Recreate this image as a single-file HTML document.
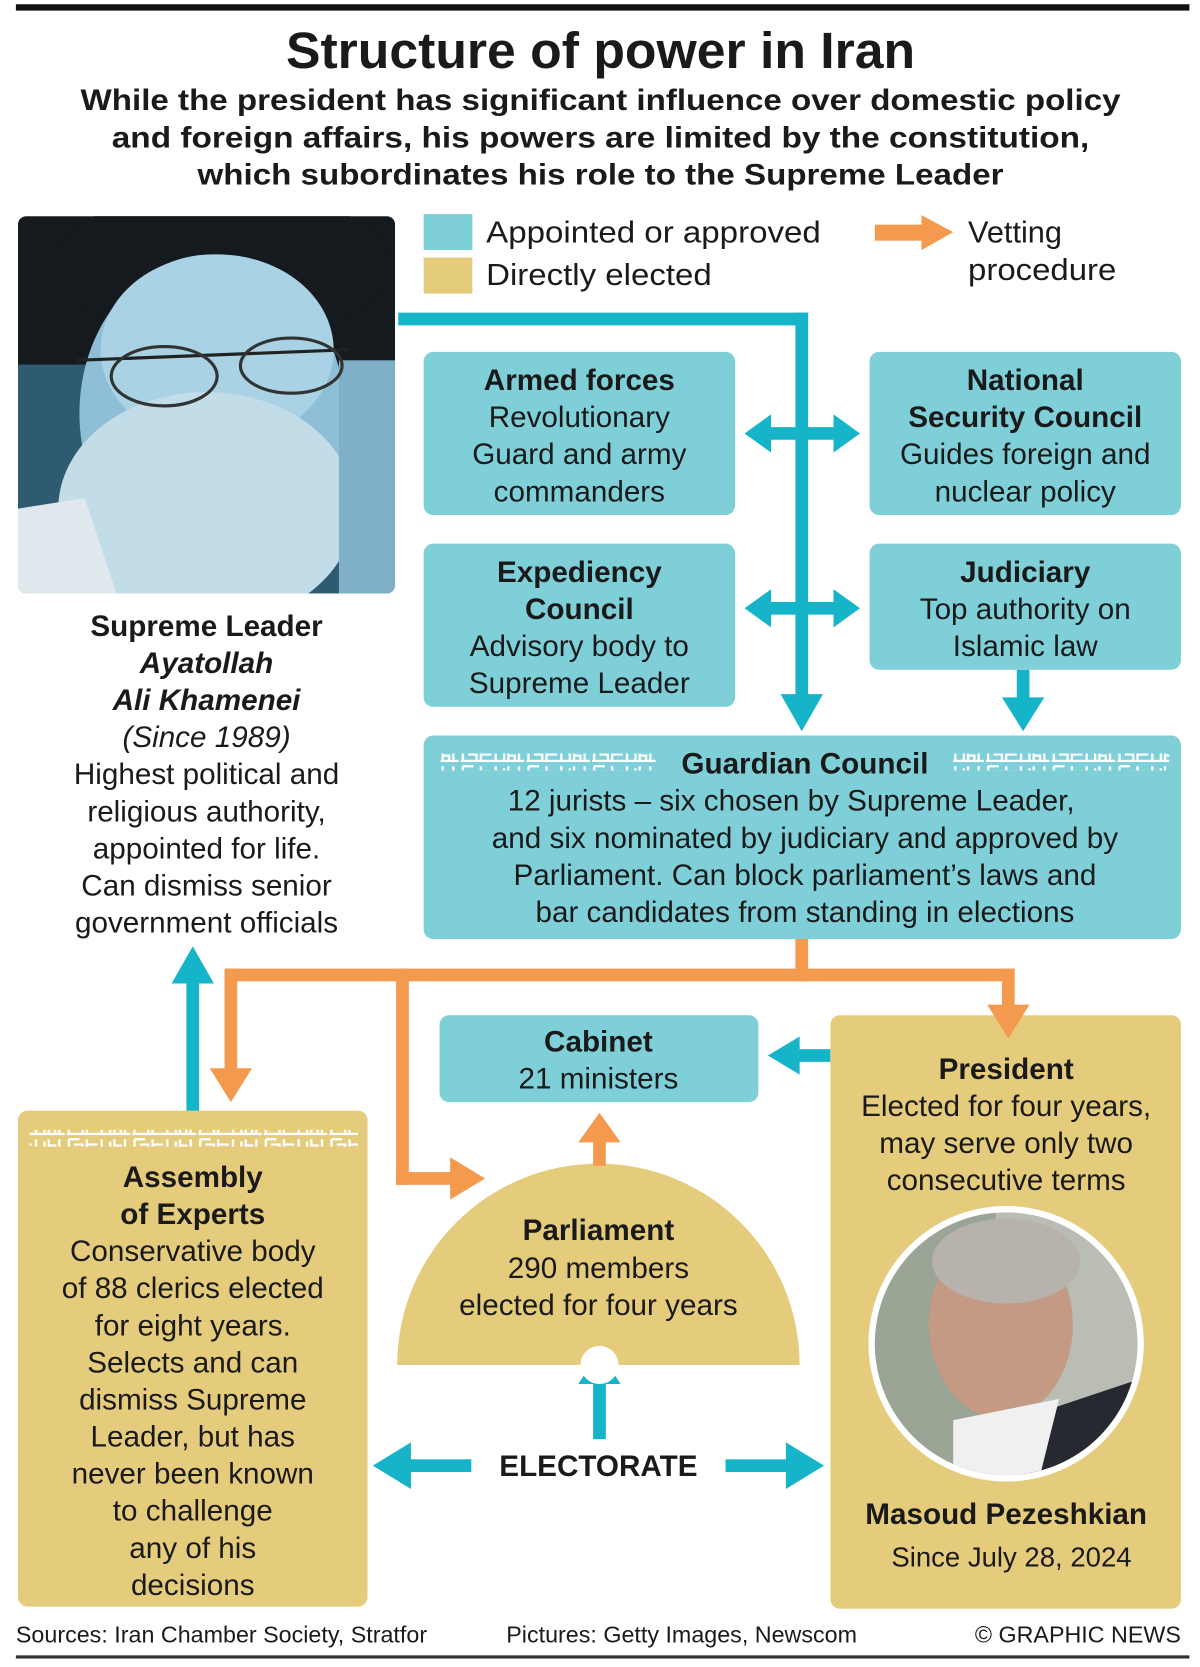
<!DOCTYPE html>
<html><head><meta charset="utf-8"><style>
html,body{margin:0;padding:0;background:#fff;}
svg{display:block;}
text{font-family:"Liberation Sans",sans-serif;fill:#1a1a1a;}
.b{font-weight:bold;}
</style></head><body>
<svg width="1200" height="1667" viewBox="0 0 1133 1573" preserveAspectRatio="none" xmlns="http://www.w3.org/2000/svg">
<defs>
<pattern id="kufi" x="0" y="0" width="62" height="16" patternUnits="userSpaceOnUse">
<path d="M1 14h60M3 3h10M3 3v11M8 8h8v6M20 3v11M20 8h10M34 3v11h8V5M46 3v11M46 9h6v5M56 3v11" stroke="#fff" stroke-width="2.2" fill="none"/>
</pattern>
<clipPath id="pc"><circle cx="950" cy="1268" r="124"/></clipPath>
<clipPath id="kc"><rect x="17" y="204" width="356" height="356" rx="8"/></clipPath>
</defs>

<rect x="15" y="4" width="1108" height="6" fill="#111"/>
<text x="567" y="64" text-anchor="middle" class="b" font-size="48" textLength="594" lengthAdjust="spacingAndGlyphs">Structure of power in Iran</text>
<text x="567" y="104" text-anchor="middle" class="b" font-size="28" textLength="982" lengthAdjust="spacingAndGlyphs">While the president has significant influence over domestic policy</text>
<text x="567" y="139" text-anchor="middle" class="b" font-size="28" textLength="923" lengthAdjust="spacingAndGlyphs">and foreign affairs, his powers are limited by the constitution,</text>
<text x="567" y="174" text-anchor="middle" class="b" font-size="28" textLength="761" lengthAdjust="spacingAndGlyphs">which subordinates his role to the Supreme Leader</text>

<!-- Khamenei photo -->
<g clip-path="url(#kc)">
<rect x="17" y="204" width="356" height="356" fill="#2f5b72"/>
<rect x="17" y="204" width="356" height="140" fill="#151a1e"/>
<ellipse cx="210" cy="250" rx="160" ry="70" fill="#151a1e"/>
<ellipse cx="200" cy="390" rx="125" ry="150" fill="#8fbfd6"/>
<ellipse cx="205" cy="330" rx="110" ry="90" fill="#a9d2e4"/>
<ellipse cx="195" cy="480" rx="140" ry="110" fill="#c3dde8"/>
<path d="M17 480 L80 470 L110 560 L17 560Z" fill="#dfe8ec"/>
<rect x="320" y="340" width="60" height="220" fill="#7fb0c8"/>
<path d="M72 340 L330 330" stroke="#222" stroke-width="3" fill="none"/>
<ellipse cx="155" cy="355" rx="50" ry="28" fill="none" stroke="#333" stroke-width="3"/>
<ellipse cx="275" cy="345" rx="48" ry="26" fill="none" stroke="#333" stroke-width="3"/>
</g>

<!-- legend -->
<rect x="400" y="202" width="46" height="34" fill="#7ecfd8"/>
<rect x="400" y="243" width="46" height="34" fill="#e5cc7d"/>
<text x="459" y="229" font-size="29" textLength="316" lengthAdjust="spacingAndGlyphs">Appointed or approved</text>
<text x="459" y="269" font-size="29" textLength="213" lengthAdjust="spacingAndGlyphs">Directly elected</text>
<polygon points="826,212 870,212 870,203 900,219 870,236 870,227 826,227" fill="#f39a4e"/>
<text x="914" y="229" font-size="29">Vetting</text>
<text x="914" y="264" font-size="29" textLength="140" lengthAdjust="spacingAndGlyphs">procedure</text>

<!-- teal connectors -->
<g fill="#16b4c9">
<rect x="376" y="295" width="387" height="12"/>
<rect x="751" y="295" width="12" height="365"/>
<polygon points="737,655 777,655 757,690"/>
<polygon points="703,409 728,391 728,403 787,403 787,391 812,409 787,427 787,415 728,415 728,427"/>
<polygon points="703,574 728,556 728,568 787,568 787,556 812,574 787,592 787,580 728,580 728,592"/>
<rect x="960" y="632" width="12" height="30"/>
<polygon points="946,658 986,658 966,690"/>
<rect x="752" y="990" width="32" height="12"/>
<polygon points="725,996 755,978 755,1014"/>
<rect x="176" y="925" width="12" height="125"/>
<polygon points="162,928 202,928 182,893"/>
<rect x="560" y="1300" width="12" height="58"/>
<polygon points="546,1306 586,1306 566,1276"/>
<rect x="385" y="1377" width="60" height="12"/>
<polygon points="352,1383 388,1361 388,1405"/>
<rect x="685" y="1377" width="60" height="12"/>
<polygon points="778,1383 742,1361 742,1405"/>
</g>

<!-- boxes -->
<g fill="#7ecfd8">
<rect x="400" y="332" width="294" height="154" rx="9"/>
<rect x="821" y="332" width="294" height="154" rx="9"/>
<rect x="400" y="513" width="294" height="154" rx="9"/>
<rect x="821" y="513" width="294" height="119" rx="9"/>
<rect x="400" y="694" width="715" height="192" rx="9"/>
<rect x="415" y="958" width="301" height="82" rx="9"/>
</g>
<g fill="#e5cc7d">
<rect x="17" y="1048" width="330" height="468" rx="9"/>
<rect x="784" y="958" width="331" height="560" rx="9"/>
<path d="M375 1288 A190 190 0 0 1 755 1288 Z"/>
</g>
<circle cx="566" cy="1288" r="18" fill="#fff"/>

<!-- orange connectors -->
<g fill="#f39a4e">
<rect x="751" y="886" width="12" height="40"/>
<rect x="212" y="914" width="746" height="12"/>
<rect x="212" y="914" width="12" height="100"/>
<polygon points="198,1008 238,1008 218,1040"/>
<rect x="946" y="914" width="12" height="40"/>
<polygon points="932,948 972,948 952,980"/>
<rect x="374" y="914" width="12" height="204"/>
<rect x="374" y="1106" width="55" height="12"/>
<polygon points="425,1092 458,1112 425,1132"/>
<rect x="560" y="1070" width="12" height="30"/>
<polygon points="546,1078 586,1078 566,1050"/>
</g>

<!-- kufi patterns -->
<rect x="416" y="711" width="204" height="16" fill="url(#kufi)"/>
<rect x="900" y="711" width="204" height="16" fill="url(#kufi)"/>
<rect x="28" y="1066" width="310" height="16" fill="url(#kufi)"/>

<!-- box text -->
<g font-size="28" text-anchor="middle">
<text x="547" y="368" class="b">Armed forces</text>
<text x="547" y="403">Revolutionary</text>
<text x="547" y="438">Guard and army</text>
<text x="547" y="473">commanders</text>

<text x="968" y="368" class="b">National</text>
<text x="968" y="403" class="b">Security Council</text>
<text x="968" y="438">Guides foreign and</text>
<text x="968" y="473">nuclear policy</text>

<text x="547" y="549" class="b">Expediency</text>
<text x="547" y="584" class="b">Council</text>
<text x="547" y="619">Advisory body to</text>
<text x="547" y="654">Supreme Leader</text>

<text x="968" y="549" class="b">Judiciary</text>
<text x="968" y="584">Top authority on</text>
<text x="968" y="619">Islamic law</text>

<text x="760" y="730" class="b">Guardian Council</text>
<text x="747" y="765">12 jurists – six chosen by Supreme Leader,</text>
<text x="760" y="800">and six nominated by judiciary and approved by</text>
<text x="760" y="835">Parliament. Can block parliament’s laws and</text>
<text x="760" y="870">bar candidates from standing in elections</text>

<text x="565" y="992" class="b">Cabinet</text>
<text x="565" y="1027">21 ministers</text>

<text x="950" y="1018" class="b">President</text>
<text x="950" y="1053">Elected for four years,</text>
<text x="950" y="1088">may serve only two</text>
<text x="950" y="1123">consecutive terms</text>
<text x="950" y="1438" class="b">Masoud Pezeshkian</text>
<text x="955" y="1478" font-size="26">Since July 28, 2024</text>

<text x="565" y="1170" class="b">Parliament</text>
<text x="565" y="1206">290 members</text>
<text x="565" y="1241">elected for four years</text>

<text x="565" y="1393" class="b">ELECTORATE</text>

<text x="182" y="1120" class="b">Assembly</text>
<text x="182" y="1155" class="b">of Experts</text>
<text x="182" y="1190">Conservative body</text>
<text x="182" y="1225">of 88 clerics elected</text>
<text x="182" y="1260">for eight years.</text>
<text x="182" y="1295">Selects and can</text>
<text x="182" y="1330">dismiss Supreme</text>
<text x="182" y="1365">Leader, but has</text>
<text x="182" y="1400">never been known</text>
<text x="182" y="1435">to challenge</text>
<text x="182" y="1470">any of his</text>
<text x="182" y="1505">decisions</text>

<text x="195" y="600" class="b">Supreme Leader</text>
<text x="195" y="635" class="b" font-style="italic">Ayatollah</text>
<text x="195" y="670" class="b" font-style="italic">Ali Khamenei</text>
<text x="195" y="705" font-style="italic">(Since 1989)</text>
<text x="195" y="740">Highest political and</text>
<text x="195" y="775">religious authority,</text>
<text x="195" y="810">appointed for life.</text>
<text x="195" y="845">Can dismiss senior</text>
<text x="195" y="880">government officials</text>
</g>

<!-- Pezeshkian photo -->
<circle cx="950" cy="1268" r="130" fill="#fff"/>
<g clip-path="url(#pc)">
<rect x="820" y="1140" width="260" height="260" fill="#b9bdb4"/>
<rect x="820" y="1140" width="120" height="260" fill="#9aa596"/>
<ellipse cx="945" cy="1250" rx="68" ry="88" fill="#c49a84"/>
<ellipse cx="950" cy="1190" rx="70" ry="40" fill="#b8b2ad"/>
<path d="M990 1330 L1080 1300 L1080 1400 L960 1400Z" fill="#262a30"/>
<path d="M900 1340 L1000 1320 L980 1400 L900 1400Z" fill="#f0f0f0"/>
</g>

<!-- footer -->
<text x="15" y="1550" font-size="22">Sources: Iran Chamber Society, Stratfor</text>
<text x="478" y="1550" font-size="22">Pictures: Getty Images, Newscom</text>
<text x="1115" y="1550" font-size="22" text-anchor="end">© GRAPHIC NEWS</text>
<rect x="15" y="1562" width="1108" height="3" fill="#333"/>
</svg>
</body></html>
